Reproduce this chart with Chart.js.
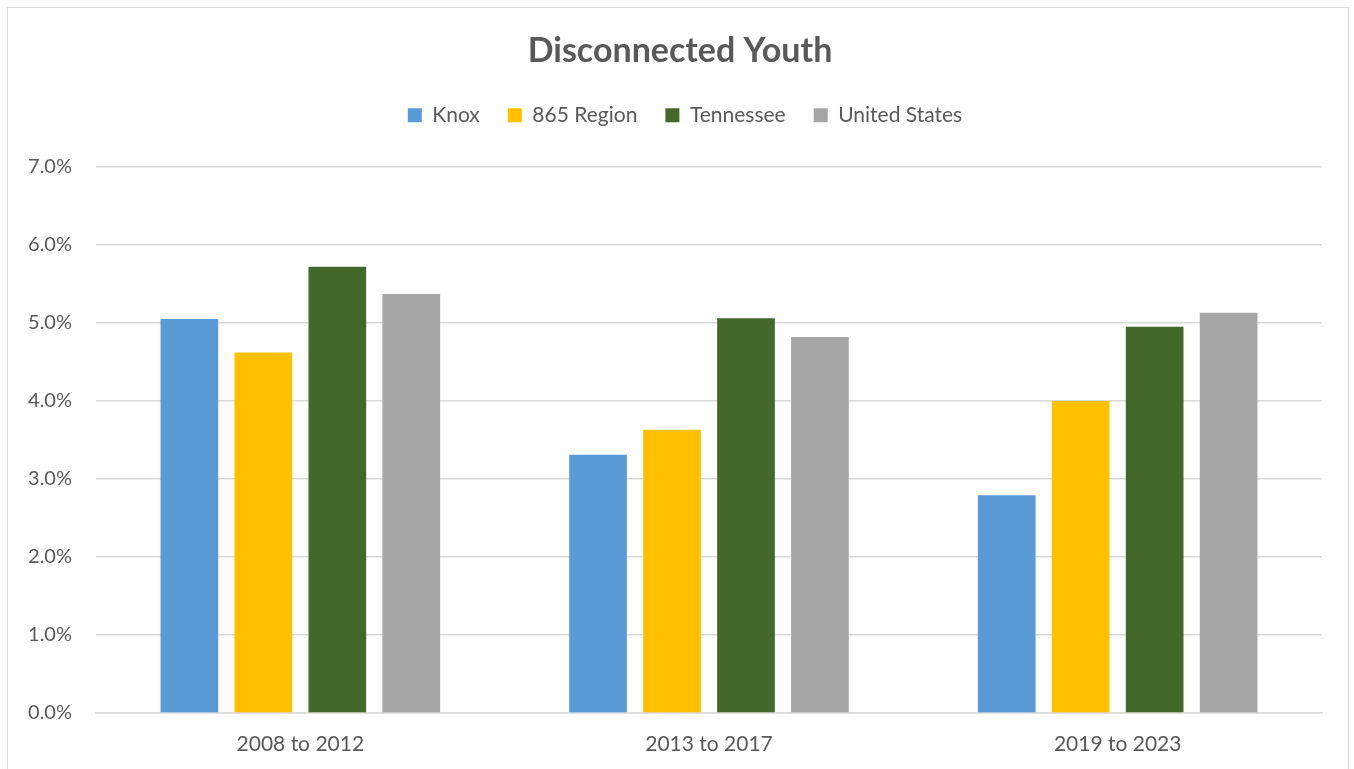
<!DOCTYPE html>
<html>
<head>
<meta charset="utf-8">
<script src="https://cdn.jsdelivr.net/npm/chart.js@4"></script>
<style>
  body { margin: 0; background: #fff; }
  .frame { position: absolute; left: 7px; top: 7px; width: 1340px; height: 800px; border: 1px solid #d9d9d9; }
  .wrap { position: absolute; left: 0; top: 0; width: 1354px; height: 769px; }
</style>
</head>
<body>
<div class="frame"></div>
<div class="wrap"><canvas id="chart"></canvas></div>
<script>
// данные с картинки
const periods = ['2008 to 2012', '2013 to 2017', '2019 to 2023'];
const knox = [5.05, 3.31, 2.79];
const region865 = [4.62, 3.63, 4.00];
const tennessee = [5.72, 5.06, 4.95];
const unitedStates = [5.37, 4.82, 5.13];

const textColor = '#595959';
const fontFamily = 'Lato, "Open Sans", sans-serif';

// отступ под легендой и сдвиг заголовка/легенды к центру рамки
const headerTweaks = {
    id: 'headerTweaks',
    beforeUpdate(chart) {
        const legend = chart.legend;
        if (!legend || legend._patched) return;
        const origFit = legend.fit;
        legend.fit = function () {
            origFit.call(this);
            this.height += 31;
        };
        legend._patched = true;
    },
    afterLayout(chart) {
        if (chart.titleBlock) {
            chart.titleBlock.left += 19;
            chart.titleBlock.right += 19;
        }
        if (chart.legend) {
            chart.legend.left += 24;
            chart.legend.right += 24;
        }
    }
};

const ctx = document.getElementById('chart');
new Chart(ctx, {
    type: 'bar',
    data: {
        labels: periods,
        datasets: [
            { label: 'Knox', data: knox, backgroundColor: '#5b9bd5' },
            { label: '865 Region', data: region865, backgroundColor: '#ffc000' },
            { label: 'Tennessee', data: tennessee, backgroundColor: '#43682b' },
            { label: 'United States', data: unitedStates, backgroundColor: '#a5a5a5' }
        ]
    },
    plugins: [headerTweaks],
    options: {
        responsive: true,
        maintainAspectRatio: false,
        animation: false,
        layout: { padding: { left: 0, right: 32, top: 0, bottom: 0 } },
        datasets: {
            bar: { categoryPercentage: 0.724, barPercentage: 0.78 }
        },
        plugins: {
            title: {
                display: true,
                text: 'Disconnected Youth',
                color: textColor,
                font: { family: fontFamily, size: 34, weight: 'bold' },
                padding: { top: 31, bottom: 5 }
            },
            legend: {
                position: 'top',
                labels: {
                    color: textColor,
                    font: { family: fontFamily, size: 21 },
                    boxWidth: 14,
                    boxHeight: 14,
                    padding: 28
                }
            },
            tooltip: { enabled: false }
        },
        scales: {
            x: {
                grid: { display: false },
                border: { color: '#d9d9d9', width: 1.5 },
                ticks: { color: textColor, font: { family: fontFamily, size: 21 }, padding: 11 },
                afterFit: (scale) => { scale.height = 56; }
            },
            y: {
                min: 0,
                max: 7,
                ticks: {
                    stepSize: 1,
                    color: textColor,
                    font: { family: fontFamily, size: 20 },
                    padding: 24,
                    callback: (v) => v.toFixed(1) + '%'
                },
                grid: { color: '#d9d9d9', lineWidth: 1.5, drawTicks: false },
                border: { display: false },
                afterFit: (scale) => { scale.width = 96; }
            }
        }
    }
});
</script>
</body>
</html>
